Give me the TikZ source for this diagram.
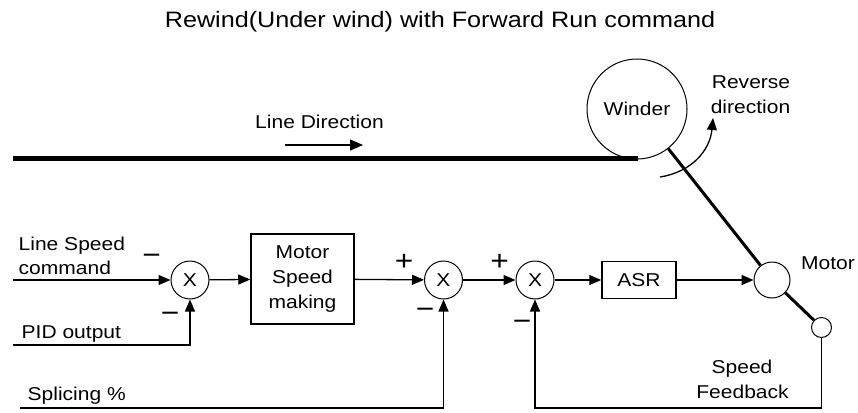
\documentclass[tikz,border=0pt]{standalone}
\usepackage{fontspec}
\setmainfont[FakeStretch=1.13]{Liberation Sans}
\usetikzlibrary{arrows.meta}
\begin{document}
\begin{tikzpicture}[x=1pt,y=-1pt,
  txt/.style={inner sep=0pt,font=\fontsize{18.6}{25}\selectfont},
  sumj/.style={circle,draw,line width=1pt,minimum size=38pt,inner sep=0pt,font=\fontsize{18.6}{25}\selectfont},
  blk/.style={draw,line width=1.5pt,inner sep=0pt,font=\fontsize{18.6}{25}\selectfont,align=center},
  tip/.style={-{Triangle[length=12pt,width=10pt]}},
  sig/.style={line width=1.3pt,tip},
  wire/.style={line width=1.3pt},
  sgn/.style={inner sep=0pt,font=\fontsize{28}{28}\selectfont},
  rot/.style={circle,draw,line width=1pt,inner sep=0pt},
  shaft/.style={line width=3pt},
]
\useasboundingbox (0,0) rectangle (858,412);

% title
\node[txt,font=\fontsize{22.3}{26}\selectfont,anchor=base] (title) at (440,28) {Rewind(Under wind) with Forward Run command};

% line direction
\node[txt,anchor=base] (ld) at (319.5,128) {Line Direction};
\coordinate (lda) at (285,145);
\coordinate (ldb) at (363,145);
\draw[line width=1.3pt,-{Triangle[length=13pt,width=11pt]}] (lda) -- (ldb);

% web line
\coordinate (tl0) at (13,158.5);
\coordinate (tl1) at (638,158.5);
\draw[line width=5pt] (tl0) -- (tl1);

% winder
\node[rot,minimum size=100pt,txt,draw,line width=1pt] (winder) at (637,109) {Winder};
\node[txt,anchor=base] (rev1) at (751,88) {Reverse};
\node[txt,anchor=base] (rev2) at (750.5,113) {direction};
\coordinate (ra0) at (660,177);
\coordinate (ra1) at (713,118);
\draw[line width=1.3pt,tip] (ra0) .. controls (692,172) and (710,150) .. (ra1);

% motor and encoder
\node[rot,minimum size=36pt] (motor) at (772,280) {};
\node[txt,anchor=base] (motorlbl) at (828,269) {Motor};
\node[rot,minimum size=20pt] (enc) at (821.5,327.5) {};
\draw[shaft] (winder) -- (motor);
\draw[shaft] (motor) -- (enc);
\node[txt,anchor=base] (sf1) at (742,373.5) {Speed};
\node[txt,anchor=base] (sf2) at (742.5,398) {Feedback};

% inputs
\node[txt,anchor=base west] (ls1) at (18.5,250) {Line Speed};
\node[txt,anchor=base west] (ls2) at (18.5,274) {command};
\node[txt,anchor=base west] (pidl) at (21.5,338) {PID output};
\node[txt,anchor=base west] (spl) at (27.5,400) {Splicing \%};

% junctions and blocks
\node[sumj] (j1) at (190,280) {X};
\node[blk,minimum width=103pt,minimum height=90pt] (msm) at (302.5,279) {Motor\\Speed\\making};
\node[sumj] (j2) at (443.5,280) {X};
\node[sumj] (j3) at (535,280) {X};
\node[blk,minimum width=74pt,minimum height=37pt] (asr) at (639,280) {ASR};

% signs
\node[sgn] (m1) at (151.5,259) {−};
\node[sgn] (m2) at (170,317) {−};
\node[sgn] (p1) at (404,262) {+};
\node[sgn] (m3) at (425,313) {−};
\node[sgn] (p2) at (499.5,262) {+};
\node[sgn] (m4) at (522,325) {−};

% signal lines
\coordinate (ls0) at (13,280);
\coordinate (pid0) at (13,345);
\coordinate (sp0) at (20,408);
\coordinate (fbb) at (821.5,408);
\draw[sig] (ls0) -- (j1);
\draw[sig] (pid0) -| (j1.south);
\draw[sig] (j1) -- (msm);
\draw[sig] (msm) -- (j2);
\draw[sig] (j2) -- (j3);
\draw[sig] (j3) -- (asr);
\draw[sig] (asr) -- (motor);
\draw[sig] (sp0) -| (j2.south);
\draw[sig] (enc.south) -- (fbb) -| (j3.south);
\end{tikzpicture}
\end{document}
